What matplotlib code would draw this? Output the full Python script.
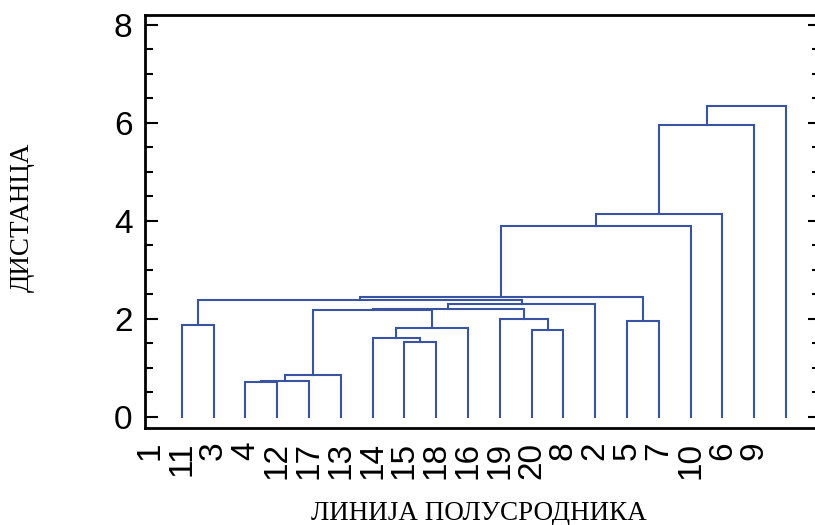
import matplotlib.pyplot as plt
import numpy as np
from matplotlib.ticker import MultipleLocator

# tick labels under the plot (as they appear in the source, one slot left of the leaves)
tick_labels = ['1', '11', '3', '4', '12', '17', '13', '14', '15', '18',
               '16', '19', '20', '8', '2', '5', '7', '10', '6', '9']

n_leaves = 20
leaf_pos = np.arange(1, n_leaves + 1)   # leaf x positions
tick_pos = np.arange(0, n_leaves)       # label positions

# merges: (child a, child b, distance); leaves are 0..19, new nodes from 20 up
merge_a = [0, 2, 21, 22, 7, 6, 25, 23, 11, 10, 27, 30, 20, 14, 32, 34, 35, 36, 37]
merge_b = [1, 3, 4, 5, 8, 24, 9, 26, 12, 28, 29, 13, 31, 15, 33, 16, 17, 18, 19]
merge_h = [1.87, 0.72, 0.74, 0.85, 1.53, 1.62, 1.81, 2.19, 1.77, 2.00,
           2.21, 2.30, 2.39, 1.96, 2.44, 3.90, 4.14, 5.96, 6.35]

line_color = '#3A54A4'

fig = plt.figure(figsize=(8.15, 5.25), dpi=100)
ax = fig.add_axes([145 / 815, 97.3 / 525, 675 / 815, 413 / 525])

node_x = list(leaf_pos.astype(float))
node_h = [0.0] * n_leaves
for a, b, h in zip(merge_a, merge_b, merge_h):
    xa, xb = node_x[a], node_x[b]
    ax.plot([xa, xa, xb, xb], [node_h[a], h, h, node_h[b]],
            color=line_color, lw=1.5, solid_joinstyle='miter')
    node_x.append((xa + xb) / 2)
    node_h.append(h)

ax.set_xlim(-0.16, 21.07)
ax.set_ylim(-0.22, 8.21)

ax.set_yticks([0, 2, 4, 6, 8])
ax.yaxis.set_minor_locator(MultipleLocator(0.5))
ax.tick_params(axis='y', which='major', direction='in', length=9, width=1.5,
               left=True, right=True, labelsize=24, pad=9)
ax.tick_params(axis='y', which='minor', direction='in', length=5.5, width=1.5,
               left=True, right=True)

ax.set_xticks(tick_pos)
ax.set_xticklabels(tick_labels, rotation=90, fontsize=24)
ax.tick_params(axis='x', length=0, pad=10)

for lab in ax.get_xticklabels() + ax.get_yticklabels():
    lab.set_family(['Liberation Sans', 'DejaVu Sans'])

for s in ax.spines.values():
    s.set_linewidth(2)

fig.text(22 / 815, 1 - 217 / 525, 'ДИСТАНЦА', rotation=90, ha='center', va='center',
         fontsize=19.5, family=['Liberation Serif', 'DejaVu Serif'])
fig.text(479 / 815, 1 - 513 / 525, 'ЛИНИЈА ПОЛУСРОДНИКА', ha='center', va='center',
         fontsize=19.5, family=['Liberation Serif', 'DejaVu Serif'])

fig.savefig('out.png', dpi=100)
